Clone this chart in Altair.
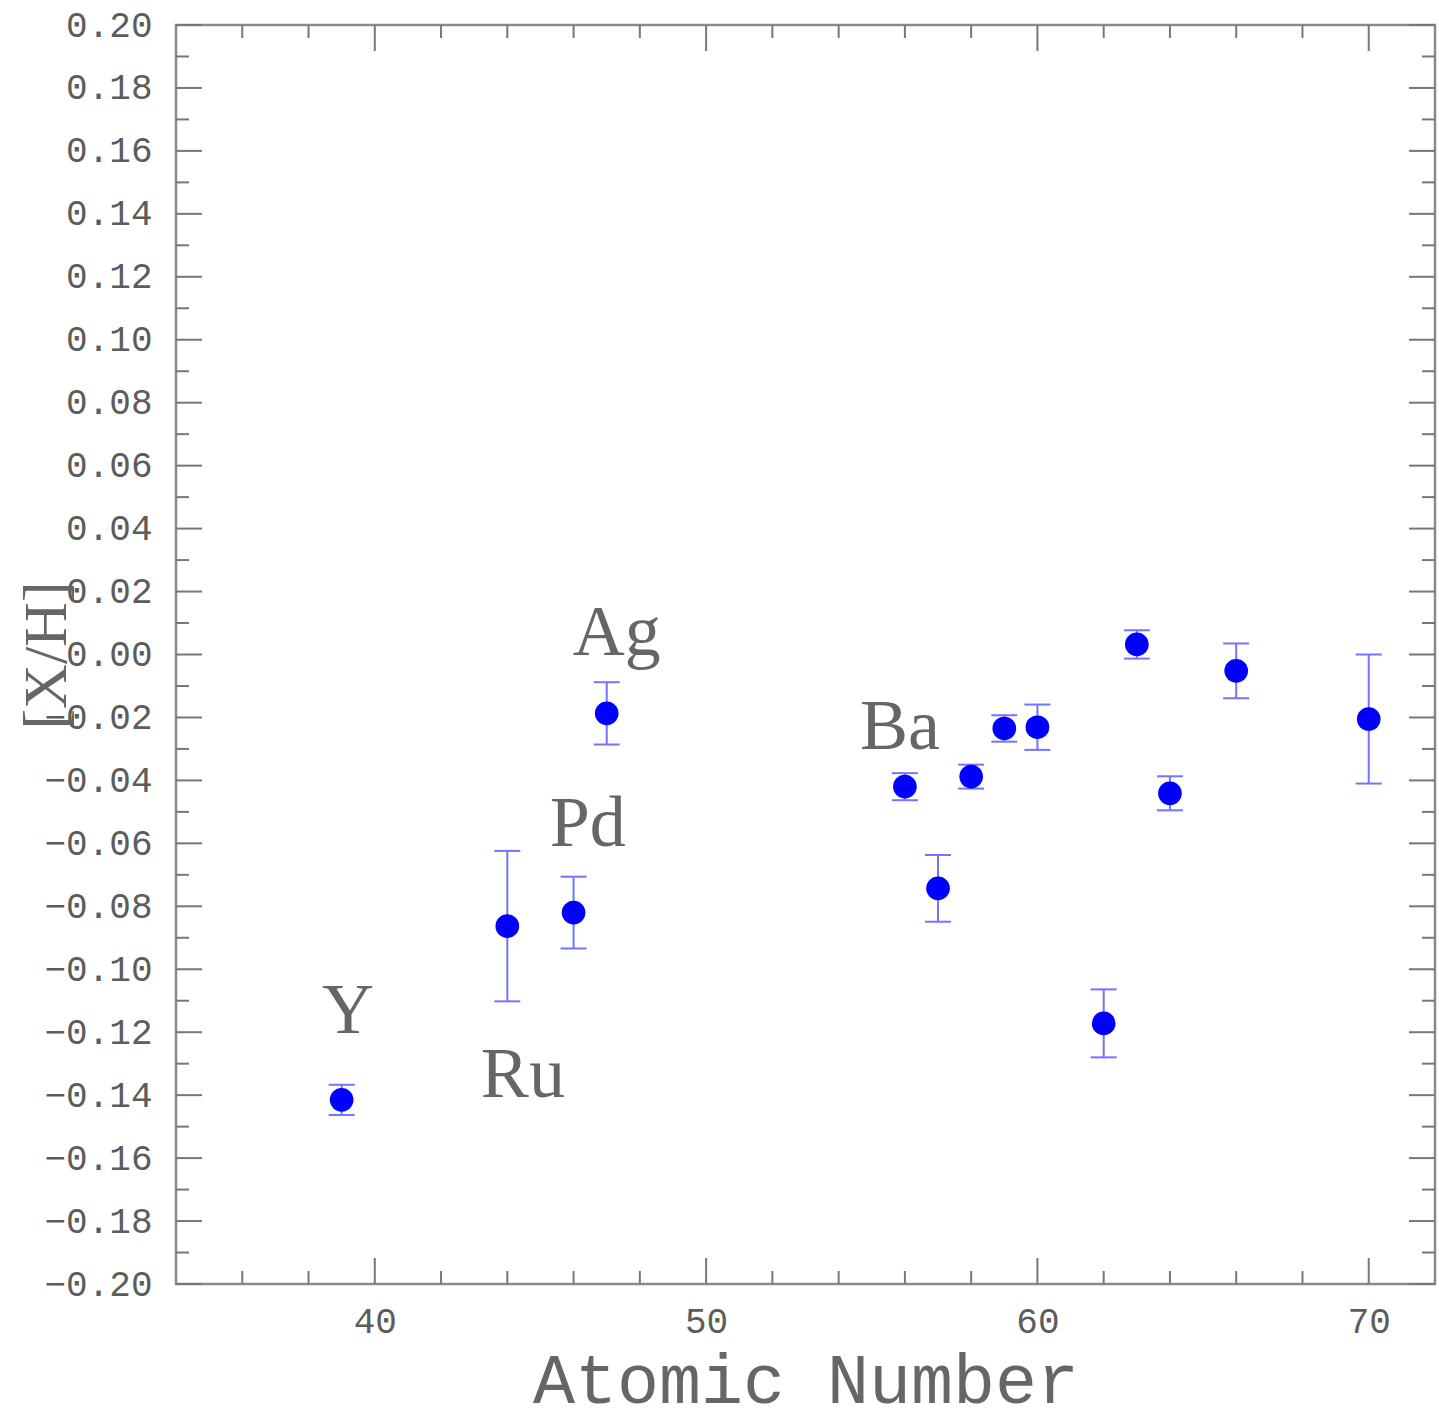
import altair as alt
import pandas as pd

# ---- data ----
Z = [39, 44, 46, 47, 56, 57, 58, 59, 60, 62, 63, 64, 66, 70]
XH = [-0.1415, -0.0863, -0.0820, -0.0187, -0.0420, -0.0743, -0.0388,
      -0.0235, -0.0231, -0.1172, 0.0032, -0.0441, -0.0052, -0.0205]
ERR = [0.0048, 0.0239, 0.0114, 0.0099, 0.0043, 0.0106, 0.0038,
       0.0042, 0.0072, 0.0108, 0.0045, 0.0054, 0.0087, 0.0205]

LABELS = ["Y", "Ru", "Pd", "Ag", "Ba"]
LABEL_X = [39.19, 44.47, 46.43, 47.30, 55.85]
LABEL_Y = [-0.1203, -0.1406, -0.0608, -0.0002, -0.0300]

X_MAJOR = [40, 50, 60, 70]
X_MINOR = [36, 38, 42, 44, 46, 48, 52, 54, 56, 58, 62, 64, 66, 68]
Y_MAJOR = [-0.20, -0.18, -0.16, -0.14, -0.12, -0.10, -0.08, -0.06, -0.04, -0.02,
           0.00, 0.02, 0.04, 0.06, 0.08, 0.10, 0.12, 0.14, 0.16, 0.18, 0.20]
Y_MINOR = [-0.19, -0.17, -0.15, -0.13, -0.11, -0.09, -0.07, -0.05, -0.03, -0.01,
           0.01, 0.03, 0.05, 0.07, 0.09, 0.11, 0.13, 0.15, 0.17, 0.19]

X_DOMAIN = [34, 72]
Y_DOMAIN = [-0.20, 0.20]

# ---- layout / style ----
W, H = 1259, 1259
MAJ, MIN = 26, 13
TICK_COLOR = "#777777"
TEXT_COLOR = "#5c5c5c"
ERR_COLOR = "#7373ff"

xscale = alt.Scale(domain=X_DOMAIN, nice=False, zero=False)
yscale = alt.Scale(domain=Y_DOMAIN, nice=False, zero=False)

XAXIS = alt.Axis(
    values=X_MAJOR, format="d", title="Atomic Number",
    labelBaseline="alphabetic", labelPadding=48,
    titleBaseline="alphabetic", titleY=118, titleAlign="center",
    titleFontSize=70, titleFont="Liberation Mono", titleFontWeight="normal",
)
YAXIS = alt.Axis(
    values=Y_MAJOR, format=".2f", title="[X/H]",
    labelBaseline="middle", labelPadding=24,
    titleAngle=270, titleBaseline="alphabetic", titleAlign="center",
    titleX=-111, titleY=630,
    titleFontSize=62, titleFont="Liberation Serif", titleFontWeight="normal",
)


def X(field):
    return alt.X(field, scale=xscale, axis=XAXIS)


def Y(field):
    return alt.Y(field, scale=yscale, axis=YAXIS)


df = pd.DataFrame({"Z": Z, "XH": XH, "ERR": ERR})
lab = pd.DataFrame({"name": LABELS, "lx": LABEL_X, "ly": LABEL_Y})

base = alt.Chart(df).transform_calculate(
    lo="datum.XH - datum.ERR", hi="datum.XH + datum.ERR"
)

errbars = base.mark_rule(color=ERR_COLOR, strokeWidth=2).encode(
    x=X("Z:Q"), y=Y("lo:Q"), y2="hi:Q",
)
cap_lo = base.mark_tick(orient="horizontal", size=26, thickness=2, color=ERR_COLOR, opacity=1).encode(
    x=X("Z:Q"), y=Y("lo:Q"),
)
cap_hi = base.mark_tick(orient="horizontal", size=26, thickness=2, color=ERR_COLOR, opacity=1).encode(
    x=X("Z:Q"), y=Y("hi:Q"),
)

points = alt.Chart(df).mark_circle(size=560, color="#0000ff", opacity=1).encode(
    x=X("Z:Q"), y=Y("XH:Q"),
)

texts = alt.Chart(lab).mark_text(
    font="Liberation Serif", fontSize=72, color="#666666",
    align="center", baseline="alphabetic",
).encode(
    x=X("lx:Q"), y=Y("ly:Q"), text="name:N",
)


def xticks(vals, length, top):
    d = pd.DataFrame({"v": vals})
    if top:
        yy, yy2 = alt.value(0), alt.value(length)
    else:
        yy, yy2 = alt.value(H), alt.value(H - length)
    return alt.Chart(d).mark_rule(color=TICK_COLOR, strokeWidth=2).encode(
        x=X("v:Q"), y=yy, y2=yy2
    )


def yticks(vals, length, right):
    d = pd.DataFrame({"v": vals})
    if right:
        xx, xx2 = alt.value(W), alt.value(W - length)
    else:
        xx, xx2 = alt.value(0), alt.value(length)
    return alt.Chart(d).mark_rule(color=TICK_COLOR, strokeWidth=2).encode(
        y=Y("v:Q"), x=xx, x2=xx2
    )


ticks = [
    xticks(X_MAJOR, MAJ, False), xticks(X_MINOR, MIN, False),
    xticks(X_MAJOR, MAJ, True), xticks(X_MINOR, MIN, True),
    yticks(Y_MAJOR, MAJ, False), yticks(Y_MINOR, MIN, False),
    yticks(Y_MAJOR, MAJ, True), yticks(Y_MINOR, MIN, True),
]

chart = alt.layer(
    *ticks, errbars, cap_lo, cap_hi, points, texts
).properties(
    width=W, height=H,
    padding={"left": 176, "top": 25, "right": 4, "bottom": 141},
    autosize=alt.AutoSizeParams(type="none"),
    background="white",
).configure_view(
    stroke="#8a8a8a", strokeWidth=2.5
).configure_axis(
    domain=False, ticks=False, grid=False,
    labelFont="Liberation Mono", labelFontSize=36, labelColor=TEXT_COLOR,
    titleColor="#666666", labelOverlap=False,
)

chart.save("out.html", embed_options={"renderer": "svg", "actions": False})
